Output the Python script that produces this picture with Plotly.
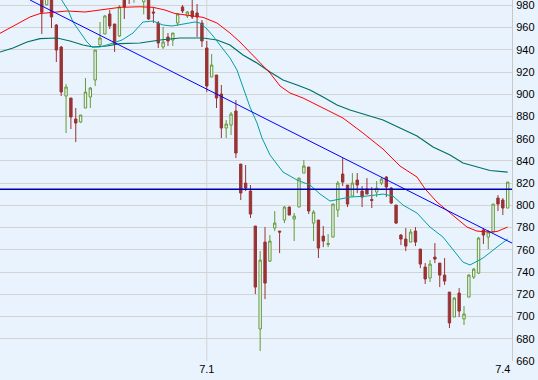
import plotly.graph_objects as go

# ---- data ----
opens = [992, 980.5, 992, 962.3, 942.5, 898.4, 896.6, 877.7, 875.0, 887.6,
         897.5, 912.8, 944.3, 954.2, 972.2, 963.2, 952.4, 988, 995, 987,
         998, 983.2, 990, 974.0, 964.1, 942.5, 951.5, 948.8, 964.1, 978.5,
         970.4, 974.9, 973.1, 964.1, 941.6, 915.5, 917.3, 900.2, 869.6, 872.3,
         884.9, 837.2, 820.1, 812.9, 781.4, 688.8, 767.0, 749.9, 779.6, 776.9,
         786.9, 798.5, 787.7, 798.5, 829.1, 834.5, 784.1, 786.8, 772.4, 764.8,
         771.5, 795.8, 828.2, 818.3, 808.4, 822.8, 812.9, 814.7, 805.3, 812.0,
         820.1, 825.5, 815.6, 800.3, 773.3, 769.7, 767.0, 776.9, 760.7, 744.5,
         734.7, 753.5, 748.1, 737.3, 722.0, 699.6, 721.1, 697.8, 717.5, 735.5,
         739.1, 777.8, 771.5, 776.0, 806.6, 804.8, 797.6]
highs = [1000, 995, 996, 963.2, 943.4, 909.2, 896.6, 887.6, 881.3, 914.6,
         906.5, 939.8, 965.0, 971.3, 975.8, 963.2, 980.3, 995, 1000, 998,
         1003, 995, 995, 978.5, 965.9, 960.5, 955.1, 955.1, 973.1, 980.3,
         974.9, 988, 981.2, 966.8, 947.9, 936.2, 917.3, 908.3, 876.8, 884.0,
         894.8, 837.2, 836.3, 818.3, 781.4, 758.9, 780.5, 773.3, 794.9, 776.9,
         799.4, 799.0, 793.1, 824.6, 840.8, 834.5, 795.8, 786.8, 781.4, 774.2,
         801.2, 821.9, 842.6, 818.3, 829.1, 829.1, 817.4, 824.6, 816.5, 821.9,
         825.5, 826.4, 816.5, 800.3, 774.2, 779.6, 778.7, 780.5, 760.7, 748.1,
         750.8, 766.1, 748.1, 752.6, 722.0, 717.5, 725.6, 709.5, 738.2, 743.6,
         771.5, 779.6, 777.8, 801.2, 809.3, 806.6, 821.0]
lows = [954.2, 980.0, 959.6, 929.0, 898.4, 865.1, 868.7, 857.0, 874.1, 887.6,
        887.6, 907.4, 942.5, 954.2, 958.7, 938.0, 951.5, 967.7, 981.2, 982.3,
        988, 971.9, 966.8, 964.1, 941.6, 940.7, 943.4, 943.4, 961.4, 973.1,
        968.6, 967.7, 951.5, 942.5, 902.0, 915.5, 887.6, 860.6, 860.6, 863.3,
        842.6, 804.8, 812.9, 788.6, 720.2, 669.0, 715.7, 749.0, 776.9, 757.1,
        784.1, 791.3, 767.9, 798.5, 829.1, 792.2, 767.9, 752.6, 762.5, 762.5,
        771.5, 789.5, 817.4, 798.5, 808.4, 811.1, 798.5, 810.2, 797.6, 807.5,
        818.3, 807.5, 801.2, 783.2, 764.3, 758.9, 767.0, 763.4, 743.6, 729.3,
        731.1, 748.1, 726.5, 728.4, 689.7, 699.6, 699.6, 692.4, 717.5, 733.8,
        738.2, 765.2, 760.7, 776.0, 794.9, 791.3, 797.6]
closes = [973.7, 990, 969.5, 939.8, 902.0, 906.5, 879.5, 874.1, 881.3, 902.0,
          905.6, 939.8, 950.6, 970.4, 961.4, 945.2, 978.5, 978.5, 988, 995,
          992, 990, 967.7, 973.1, 946.1, 947.0, 947.9, 955.1, 972.2, 974.9,
          974.0, 969.5, 969.5, 947.9, 907.4, 926.3, 896.6, 869.6, 873.2, 882.2,
          847.1, 811.1, 815.6, 792.2, 726.5, 750.8, 730.1, 767.9, 784.1, 776.0,
          798.5, 791.3, 790.4, 824.6, 835.4, 794.9, 794.0, 761.6, 767.9, 765.7,
          801.2, 820.1, 821.0, 801.2, 820.1, 818.3, 807.5, 810.2, 804.4, 815.6,
          823.7, 816.5, 802.1, 784.1, 769.7, 763.4, 776.0, 767.0, 747.2, 733.8,
          747.2, 751.7, 737.3, 731.9, 694.2, 716.6, 704.9, 702.3, 737.3, 742.7,
          770.6, 773.3, 776.0, 801.2, 801.2, 797.6, 821.0]
days = list(range(len(opens)))

# moving averages (sampled along the curves; x = day index)
ma_mid_x = [-8.61, -6.55, -4.49, -2.43, -0.37, 1.69, 5.19, 8.90, 12.40, 16.11,
            20.23, 22.91, 25.38, 27.44, 30.54, 33.22, 36.10, 38.78, 40.84, 42.90,
            44.97, 47.03, 49.09, 51.15, 53.83, 56.71, 59.39, 62.07, 64.54, 66.19,
            70.31, 73.82, 77.32, 79.0, 81.44, 84.12, 87.62, 89.68, 92.36, 93.80, 96.0]
ma_mid_y = [954.8, 959.6, 964.1, 969.5, 972.6, 973.7, 974.9, 974.0, 975.8, 978.2,
            978.7, 978.2, 975.8, 972.6, 970.8, 969.2, 964.1, 955.1, 947.0, 938.0,
            929.0, 919.1, 907.4, 901.1, 896.6, 890.3, 884.0, 878.6, 870.5, 865.1,
            850.7, 835.4, 825.5, 814.7, 803.0, 793.1, 780.5, 776.9, 776.0, 776.5, 780.5]

ma_fast_x = [2.72, 4.10, 5.40, 6.43, 7.87, 9.31, 10.34, 11.99, 14.05, 16.53,
             18.79, 20.85, 22.91, 24.97, 26.83, 28.89, 31.57, 32.60, 34.04, 35.28,
             37.34, 38.78, 40.22, 41.46, 42.90, 44.35, 45.38, 47.03, 49.71, 52.60,
             55.28, 57.34, 59.39, 61.45, 63.51, 67.02, 70.31, 72.37, 74.43, 77.32,
             80.00, 82.67, 84.73, 86.79, 88.23, 90.91, 93.80, 96.0]
ma_fast_y = [992.0, 984.8, 975.8, 965.0, 956.0, 947.0, 942.5, 942.5, 945.2, 948.8,
             955.1, 965.0, 965.9, 962.3, 961.4, 963.2, 965.0, 964.1, 958.7, 952.4,
             940.7, 932.6, 921.8, 905.6, 888.5, 874.1, 860.6, 845.3, 830.0, 822.8,
             818.3, 810.2, 803.9, 805.7, 807.5, 808.4, 810.2, 808.4, 800.3, 793.1,
             780.5, 771.5, 759.9, 749.0, 746.4, 752.6, 762.5, 769.7]

ma_slow_x = [-8.61, -5.93, -3.05, -0.37, 3.13, 5.81, 8.49, 10.55, 13.43, 16.11,
             20.23, 24.36, 28.48, 33.22, 36.10, 38.78, 41.46, 44.35, 47.03, 49.71,
             52.60, 55.28, 57.96, 60.84, 63.51, 67.02, 70.31, 73.82, 77.32, 80.62,
             84.12, 86.79, 89.68, 92.36, 96.0]
ma_slow_y = [938.0, 941.6, 947.0, 950.1, 950.6, 947.9, 944.3, 942.5, 943.4, 945.6,
             946.1, 948.8, 950.6, 950.6, 948.8, 944.3, 935.3, 928.1, 920.0, 912.8,
             908.3, 903.8, 897.5, 890.3, 885.8, 881.3, 876.8, 869.6, 862.4, 852.5,
             845.3, 838.1, 834.5, 831.4, 830.0]

trend_x = [-2.43, 96.89]
trend_y = [984.8, 766.1]
level = 814.5

y_ticks = list(range(660, 1000, 20))
x_tick_pos = [34, 95]
x_tick_text = ["7.1", "7.4"]

BG = "#e9f3fd"
GRID = "#d3d3d3"
UP = "#669933"
DOWN = "#993333"

fig = go.Figure()
fig.add_trace(go.Candlestick(
    x=days, open=opens, high=highs, low=lows, close=closes,
    increasing=dict(line=dict(color=UP, width=1), fillcolor=BG),
    decreasing=dict(line=dict(color=DOWN, width=1), fillcolor=DOWN),
    whiskerwidth=0, hoverinfo="skip", showlegend=False))
fig.add_trace(go.Scatter(x=ma_slow_x, y=ma_slow_y, mode="lines",
                         line=dict(color="#007062", width=1.2), showlegend=False))
fig.add_trace(go.Scatter(x=ma_mid_x, y=ma_mid_y, mode="lines",
                         line=dict(color="#ff0000", width=1), showlegend=False))
fig.add_trace(go.Scatter(x=ma_fast_x, y=ma_fast_y, mode="lines",
                         line=dict(color="#00a0a0", width=1), showlegend=False))
fig.add_trace(go.Scatter(x=trend_x, y=trend_y, mode="lines",
                         line=dict(color="#0000ff", width=1), showlegend=False))
fig.add_trace(go.Scatter(x=[-8.61, 96.89], y=[level, level], mode="lines",
                         line=dict(color="#0000b0", width=1.5), showlegend=False))

fig.add_shape(type="line", xref="x", yref="paper", x0=x_tick_pos[0], x1=x_tick_pos[0],
              y0=0, y1=1, line=dict(color=GRID, width=1), layer="below")

fig.update_layout(
    width=538, height=380,
    margin=dict(l=0, r=26, t=0, b=19),
    paper_bgcolor=BG, plot_bgcolor=BG,
    font=dict(family="Liberation Sans, Arial, sans-serif", size=11, color="#000000"),
    showlegend=False,
    xaxis=dict(range=[-8.61, 96.89], tickvals=x_tick_pos, ticktext=x_tick_text,
               showgrid=False, zeroline=False, showline=False, ticks="",
               ticklabeloverflow="allow",
               rangeslider=dict(visible=False), fixedrange=True),
    yaxis=dict(side="right", range=[660, 984.8], tickvals=y_ticks,
               gridcolor=GRID, gridwidth=1, zeroline=False, showline=True,
               linecolor="#c8c8c8", linewidth=1, ticks="", ticklabelstandoff=1,
               ticklabeloverflow="allow", fixedrange=True),
)

fig.write_html("out.html")
